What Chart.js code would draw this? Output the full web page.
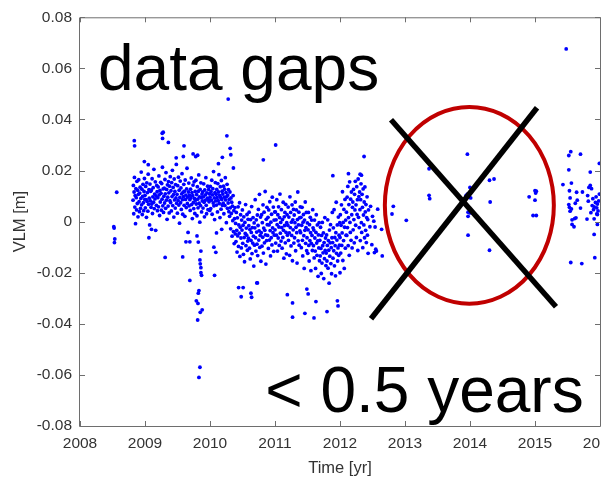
<!DOCTYPE html>
<html>
<head>
<meta charset="utf-8">
<script src="https://cdn.jsdelivr.net/npm/chart.js@4.4.1/dist/chart.umd.min.js"></script>
<style>
  html, body { margin: 0; padding: 0; background: #fff; overflow: hidden; }
  #wrap { width: 601px; height: 478px; overflow: hidden; position: relative; }
  canvas { display: block; }
</style>
</head>
<body>
<div id="wrap"><canvas id="c" width="660" height="478"></canvas></div>
<script>
// Vertical land motion (VLM) GPS time series, values in mm.
// Dense record: one value every 2 days, starting at the given day of year.
const stepDays = 2;
const start2008 = 298;
const vlm2008 = [8.4, 14.2, 3.1, 11.6, 17.3, 5.7, 10.2, -0.8, 12.9, 9.4, 4.6, 15.8, 7.1, 12.3, 1.9, 10.7, 16.4, 7.8, 3.9, 11.2, 13.5, 5.2, 9.1, 19.4, 6.6, 12.7, 2.8, 9.9, 14.6, 7.4, 4.3, 11.8, 16.9, 8.7];
const vlm2009 = [
  10.3, 5.4, 13.8, 8.6, 1.7, 15.2, 7.9, 11.4, 4.1, 18.6, 6.8, 12.5, 9.2, -1.3, 14.7, 8.1, 11.9, 5.6,
  12.4, 6.9, 16.8, 3.2, 9.7, 13.3, 7.6, 20.5, 5.1, 10.8, 8.9, 15.6, -3.4, 10.1, 6.4, 14.2, 11.7, 4.3,
  9.4, 13.6, 5.8, 17.9, 10.5, 2.4, 12.2, 7.7, 15.4, 11.1, 4.5, 14.9, 8.8, 21.3, 6.2, 12.8, 3.6, 9.9,
  13.1, 7.3, 16.5, 10.9, 5.2, 19.2, 8.4, 12.6, 0.9, 14.4, 9.6, 6.1, 15.7, 11.3, 3.4, 13.9, 8.2, 17.6,
  7.5, 12.1, 4.2, 15.3, 9.8, 20.1, 6.3, 13.4, 10.6, 1.8, 16.7, 8.5, 11.8, 5.3, 14.5, 9.3, 22.4, 7.2,
  10.7, 3.3, 14.1, 8.3, 17.4, 6.5, 12.3, -0.6, 9.5, 15.9, 7.4, 13.2, 4.8, 10.9, 18.8, 8.6, 2.9, 11.5,
  9.8, 14.6, 6.4, 11.9, 2.1, 16.3, 8.7, 10.4, 5.5, 12.8, 20.9, 7.1, 9.6, -4.2, 11.6, 15.1, 6.2, 10.3,
  8.6, 4.4, 12.7, 9.3, 17.1, 6.7, 11.4, 1.2, 10.2, 14.3, 7.5, 5.1, 15.6, 9.1, 3.2, 11.8, 8.4, 16.2,
  6.9, 10.6, 2.3, 13.7, 8.8, 5.4, 11.9, 18.3, 7.2, 9.7, -0.2, 12.6, 6.3, 15.2, 9.4, 3.8, 10.8, 8.1,
  11.6, 5.3, 9.7, 14.8, 7.6, 1.9, 12.4, 8.3, 10.5, 17.2, 6.4, 3.1, 11.3, 9.2, 13.9, 4.7, 8.5, 12.6,
  7.8, 10.9, 4.4
];
const vlm2010 = [
  9.6, 13.8, 5.1, 11.7, 8.4, 16.2, 2.9, 10.5, 12.9, 7.3, 19.6, 6.2, 9.3, 0.8, 11.4, 15.3, 8.1, 10.7,
  6.5, 12.6, 9.4, 3.8, 14.9, 8.2, 11.6, 18.4, 7.1, 10.3, 1.6, 13.7, 9.5, 4.9, 16.1, 8.7, 11.9, 6.4,
  10.8, 7.2, 13.9, 3.1, 9.6, 12.7, 6.3, 17.2, 8.5, 11.4, -0.4, 9.8, 14.6, 5.2, 10.4, 7.3, 12.5, 3.9,
  8.7, 2.1, 11.6, 5.4, -2.8, 9.3, 3.2, 7.6, -5.7, 6.1, 0.4, 10.2, -3.9, 4.3, -8.6, 1.2, 5.5, -4.8,
  -0.7, -7.8, 3.6, -3.4, -11.9, 1.5, -5.6, 5.8, -9.7, -1.3, -4.5, 7.4, -13.6, -2.2, 2.7, -6.4, -10.3, 0.6,
  -3.3, 4.6, -8.5, -1.4, -12.8, 1.9, -6.2, -15.7, -0.3, -4.6, 6.7, -9.4, -2.5, -5.3, 2.8, -11.2, -7.6, 0.9,
  -6.5, -1.6, 3.7, -10.4, -3.1, -14.6, 0.8, -7.3, -4.2, 5.9, -12.5, -2.3, -8.4, 1.6, -5.7, -17.4, -0.5, -9.2,
  -2.4, 8.6, -6.3, -11.5, 0.7, -4.1, -8.8, 2.6, -13.3, -1.5, 4.8, -7.2, -3.6, 10.7, -10.1, -5.4, 1.8, -15.5,
  -4.3, 2.7, -9.6, -0.4, -6.1, 6.6, -12.3, -2.5, 3.7, -8.3, -3.4, 11.8, -5.2, -16.6, 0.9, -7.4, 5.6, -1.2,
  -5.4, 1.7, -10.5, 4.6, -1.3, -7.2, 7.8, -3.5, -13.4, -0.2, -6.3, 2.9, -9.1, 9.6, -2.4, -4.3, 5.7, -11.6,
  0.6, -5.3, 3.8
];
const vlm2011 = [
  -3.2, 3.8, -8.4, 0.7, -5.3, 8.6, -1.2, -11.5, 2.7, -6.4, 5.8, -2.1, -9.3, 1.6, 10.8, -4.5, -0.3, -7.6,
  4.7, -2.3, -10.4, 0.8, -6.2, 7.6, -3.4, -14.3, 1.9, -1.5, 3.6, -8.3, 6.8, -4.2, -12.6, -0.4, 2.7, -5.3,
  -1.4, 5.7, -7.3, 1.8, -4.4, -13.2, 9.7, -2.3, 3.6, -9.5, -0.2, -5.4, 6.6, -15.3, 0.7, -3.2, 4.8, -8.4,
  2.6, -6.3, -0.4, 7.7, -11.4, -2.2, 4.6, -4.3, -16.2, 0.8, 11.6, -7.5, -1.3, 3.7, -9.2, 1.5, -3.6, 5.8,
  -4.3, 1.7, -10.2, -1.4, 5.6, -7.3, -13.4, -0.2, 2.8, -5.5, -18.3, 0.6, -3.4, 7.7, -8.5, -2.3, 3.6, -11.4,
  -6.3, -0.5, -12.4, -3.2, 3.6, -9.3, -15.4, -1.2, -7.4, 1.7, -4.3, -19.2, -8.5, 0.6, -5.4, -11.3, 4.7, -2.4,
  -9.4, -3.3, -14.2, 0.6, -6.4, -11.5, -18.3, -4.2, 2.7, -8.4, -13.2, -1.3, -7.5, -21.4, -5.2, -10.3, -0.4, -15.3,
  -7.3, -13.4, -2.2, -10.5, -20.3, -5.4, -16.2, -0.3, -9.4, -12.2, -4.4, -22.3, -8.2, -14.5, 1.6, -11.3, -6.4, -17.2,
  -12.3, -5.2, -15.4, -9.3, 0.7, -18.2, -7.4, -11.2, -24.1, -3.3, -13.5, -8.3, -1.2, -16.4, -10.2, -20.4, -6.3, 3.6,
  -8.2, -14.3, -2.4, -11.4, 4.7, -17.3, -6.2, -9.4, -21.2, -4.3, 7.6, -12.4, -7.2, -1.3, -15.4, -10.3, 1.8, -13.2,
  -5.3, -9.2, -0.4
];
const vlm2012 = [
  -6.2, 2.7, -12.3, -1.4, 6.6, -9.3, -4.4, 11.7, -15.2, -0.3, -7.4, 4.8, -18.3, -2.2, 8.7, -10.4, 0.6, -5.3,
  3.7, -5.4, 9.6, -2.3, 13.8, -9.4, 1.6, 6.7, -13.2, 15.6, -0.3, -4.2, 8.8, -7.3, 11.6, 2.7, -10.3, 5.6,
  7.7, -3.2, 12.6, 0.8, -8.3, 10.7, 4.6, 15.8, -1.4, 6.6, -6.2, 13.7, 2.8, 8.6, -11.3, 16.7, 1.7, 9.8,
  -2.3, 11.6, 4.7, -7.4, 8.6, 14.8, -0.4, -4.2, 10.7, 5.6, -10.2, 12.8, 2.6, -1.3, 7.7, -6.3, 13.6, 3.8,
  -3.4, 6.7, -8.2, 1.6, 9.7, -5.3, 0.8, -12.4, 4.6
];

// Individual epochs: [decimal year, mm]
const early2008 = [[2008.52, -2.0], [2008.525, -2.5], [2008.535, -6.8], [2008.53, -8.2], [2008.565, 11.5]];
const excursions = [
  [2008.835, 31.7], [2008.84, 29.7], [2008.99, 23.5], [2009.05, 22.3], [2009.06, -6.3], [2009.10, -3.0],
  [2009.265, 34.6], [2009.27, 32.6], [2009.28, 35.0], [2009.31, -14.0], [2009.36, 31.0], [2009.48, 25.0],
  [2009.58, -13.8], [2009.59, 25.5], [2009.60, 29.7], [2009.63, -7.9], [2009.69, -7.9], [2009.69, -23.0],
  [2009.74, 26.5], [2009.78, 25.5], [2009.81, 26.0],
  [2009.80, -5.6], [2009.79, -31.0], [2009.81, -38.5], [2009.815, -32.0], [2009.82, -28.0], [2009.83, -27.0],
  [2009.83, -61.0], [2009.845, -57.0], [2009.845, -15.0], [2009.85, -35.5], [2009.85, -16.5], [2009.86, -18.0],
  [2009.86, -20.0], [2009.87, -21.0], [2009.88, -34.5], [2009.86, -11.5], [2009.82, -8.0],
  [2010.06, -10.0], [2010.07, -21.0], [2010.09, -12.0], [2010.10, -4.4], [2010.13, 22.7], [2010.18, -3.0],
  [2010.19, 25.2], [2010.26, 33.6], [2010.28, 48.0], [2010.31, 28.7], [2010.32, 26.2], [2010.36, 21.0],
  [2010.44, -25.8], [2010.48, -29.4], [2010.51, -25.8], [2010.63, -28.0], [2010.64, -29.6], [2010.72, -24.0],
  [2010.73, -24.0], [2010.82, 24.2], [2011.01, 30.0],
  [2011.19, -28.6], [2011.27, -31.8], [2011.27, -37.4], [2011.46, -35.9], [2011.49, -26.4], [2011.51, -28.3],
  [2011.60, -37.7], [2011.63, -31.3], [2011.80, -35.2], [2011.89, 18.0], [2011.96, -31.0], [2011.97, -33.0],
  [2012.00, -20.0], [2012.13, 18.8], [2012.31, 18.6], [2012.33, 18.2], [2012.37, 25.5]
];
const late2012 = [
  [2012.46, -2.0], [2012.47, 6.0], [2012.49, -9.0], [2012.50, 2.1], [2012.52, 0.2], [2012.53, -12.1],
  [2012.54, -2.1], [2012.55, -10.8], [2012.56, -11.5], [2012.58, 4.9], [2012.64, -3.0], [2012.65, -13.4]
];
const gapEpochs = [
  [2012.80, 3.0], [2012.82, 6.0], [2013.02, 0.5], [2013.37, 20.7], [2013.37, 10.3], [2013.38, 9.0],
  [2013.94, 10.3], [2013.96, 26.4], [2013.96, 10.8], [2013.97, 3.7], [2013.97, 2.1], [2013.97, -5.3],
  [2014.00, 13.4], [2014.00, 3.4], [2014.01, 9.3], [2014.30, 16.2], [2014.30, -11.2], [2014.31, 7.7],
  [2014.37, 16.7], [2014.91, 9.7], [2014.97, 2.4], [2015.00, 8.4], [2015.00, 12.1], [2015.01, 11.2],
  [2015.02, 11.9], [2015.02, 2.4]
];
const late2015 = [
  [2015.48, 67.6], [2015.55, 27.4], [2015.52, 25.9], [2015.70, 26.4], [2015.52, 20.3], [2015.85, 19.4],
  [2015.99, 22.8], [2015.43, 14.5], [2015.56, 15.1], [2015.53, 12.1], [2015.64, 11.5], [2015.73, 11.6],
  [2015.85, 14.2], [2015.83, 13.4], [2015.87, 12.9], [2015.81, 10.2], [2015.94, 9.7], [2015.99, 10.8],
  [2015.54, 9.3], [2015.65, 8.4], [2015.82, 8.0], [2015.52, 6.7], [2015.53, 5.6], [2015.56, 5.0],
  [2015.70, 5.3], [2015.88, 6.3], [2015.91, 5.8], [2015.96, 6.9], [2015.90, 4.7], [2015.95, 5.4],
  [2015.54, 4.1], [2015.57, 0.7], [2015.61, 1.2], [2015.63, 1.5], [2015.80, 1.0], [2015.95, 3.0],
  [2015.96, 2.8], [2015.57, -1.1], [2015.60, -2.0], [2015.91, 1.1], [2015.96, -1.1], [2015.91, -5.0],
  [2015.92, -14.1], [2015.55, -16.0], [2015.72, -16.4], [2015.93, 7.5], [2015.97, 4.2], [2015.89, 9.0],
  [2015.98, 8.1], [2015.86, 3.5], [2015.62, 7.2]
];

// Axis ticks
const xTicks = [2008, 2009, 2010, 2011, 2012, 2013, 2014, 2015, 2016];
const yTicks = [-0.08, -0.06, -0.04, -0.02, 0, 0.02, 0.04, 0.06, 0.08];

// Overlay shapes in data units
const gapEllipse = { x: 2013.99, y: 0.0064, rx: 1.30, ry: 0.0385 };
const crossLines = [
  [2012.785, 0.0399, 2015.323, -0.0333],
  [2012.477, -0.0380, 2015.031, 0.0446]
];
const captions = [
  { text: 'data gaps', x: 2008.277, y: 0.0516 },
  { text: '< 0.5 years', x: 2010.85, y: -0.0745 }
];

const FONT = "'Liberation Sans', Arial, Helvetica, sans-serif";

function fromGrid(year, startDay, values) {
  return values.map((mm, i) => ({ x: year + (startDay + i * stepDays) / 365.25, y: mm / 1000 }));
}
function fromPairs(pairs) {
  return pairs.map(([t, mm]) => ({ x: t, y: mm / 1000 }));
}

const points = [].concat(
  fromPairs(early2008),
  fromGrid(2008, start2008, vlm2008),
  fromGrid(2009, 0, vlm2009),
  fromGrid(2010, 0, vlm2010),
  fromGrid(2011, 0, vlm2011),
  fromGrid(2012, 0, vlm2012),
  fromPairs(excursions),
  fromPairs(late2012),
  fromPairs(gapEpochs),
  fromPairs(late2015)
);

// Box frame with inward tick marks
const framePlugin = {
  id: 'frame',
  afterDraw(chart) {
    const { ctx, chartArea: a, scales: { x, y } } = chart;
    const tick = 5;
    ctx.save();
    ctx.strokeStyle = '#6e6e6e';
    ctx.lineWidth = 1;
    ctx.beginPath();
    ctx.rect(a.left - 0.5, a.top + 0.5, a.right - a.left + 1, a.bottom - a.top);
    xTicks.forEach(v => {
      const px = Math.round(x.getPixelForValue(v)) + 0.5;
      ctx.moveTo(px, a.bottom); ctx.lineTo(px, a.bottom - tick);
      ctx.moveTo(px, a.top); ctx.lineTo(px, a.top + tick);
    });
    yTicks.forEach(v => {
      const py = Math.round(y.getPixelForValue(v)) + 0.5;
      ctx.moveTo(a.left, py); ctx.lineTo(a.left + tick, py);
      ctx.moveTo(a.right, py); ctx.lineTo(a.right - tick, py);
    });
    ctx.stroke();
    ctx.restore();
  }
};

// Ellipse, cross and captions drawn over the data
const overlayPlugin = {
  id: 'overlay',
  afterDatasetsDraw(chart) {
    const { ctx, scales: { x, y } } = chart;
    ctx.save();
    const cx = x.getPixelForValue(gapEllipse.x);
    const cy = y.getPixelForValue(gapEllipse.y);
    const rx = x.getPixelForValue(gapEllipse.x + gapEllipse.rx) - cx;
    const ry = cy - y.getPixelForValue(gapEllipse.y + gapEllipse.ry);
    ctx.strokeStyle = '#c00000';
    ctx.lineWidth = 4;
    ctx.beginPath();
    ctx.ellipse(cx, cy, rx, ry, 0, 0, Math.PI * 2);
    ctx.stroke();

    ctx.strokeStyle = '#000';
    ctx.lineWidth = 5.5;
    ctx.lineCap = 'butt';
    crossLines.forEach(([x0, y0, x1, y1]) => {
      ctx.beginPath();
      ctx.moveTo(x.getPixelForValue(x0), y.getPixelForValue(y0));
      ctx.lineTo(x.getPixelForValue(x1), y.getPixelForValue(y1));
      ctx.stroke();
    });

    ctx.fillStyle = '#000';
    ctx.font = '64px ' + FONT;
    ctx.textAlign = 'left';
    ctx.textBaseline = 'alphabetic';
    captions.forEach(c => ctx.fillText(c.text, x.getPixelForValue(c.x), y.getPixelForValue(c.y)));
    ctx.restore();
  }
};

Chart.defaults.font.family = FONT;

new Chart(document.getElementById('c'), {
  type: 'scatter',
  data: {
    datasets: [{
      label: 'VLM',
      data: points,
      backgroundColor: '#0000ff',
      borderWidth: 0,
      pointRadius: 1.9,
      pointHoverRadius: 1.9
    }]
  },
  options: {
    responsive: false,
    animation: false,
    devicePixelRatio: 1,
    layout: { padding: { left: 0, top: 15, right: 60, bottom: 0 } },
    plugins: { legend: { display: false }, tooltip: { enabled: false } },
    scales: {
      x: {
        type: 'linear',
        min: 2008,
        max: 2016,
        afterBuildTicks: s => { s.ticks = xTicks.map(v => ({ value: v })); },
        afterFit: s => { s.height = 52; },
        grid: { display: false, drawTicks: false },
        border: { display: false },
        ticks: {
          autoSkip: false,
          maxRotation: 0,
          padding: 8,
          color: '#333',
          font: { size: 15.5 },
          callback: v => String(v)
        },
        title: {
          display: true,
          text: 'Time [yr]',
          color: '#333',
          font: { size: 16.5 },
          padding: { top: 0, bottom: 0 }
        }
      },
      y: {
        type: 'linear',
        min: -0.08,
        max: 0.08,
        afterBuildTicks: s => { s.ticks = yTicks.map(v => ({ value: v })); },
        afterFit: s => { s.width = 80; },
        grid: { display: false, drawTicks: false },
        border: { display: false },
        ticks: {
          autoSkip: false,
          padding: 8,
          color: '#333',
          font: { size: 15.5 },
          callback: v => (Math.abs(v) < 1e-9 ? '0' : v.toFixed(2))
        },
        title: {
          display: true,
          text: 'VLM [m]',
          color: '#333',
          font: { size: 16.5 },
          padding: { top: 11, bottom: 0 }
        }
      }
    }
  },
  plugins: [framePlugin, overlayPlugin]
});
</script>
</body>
</html>
